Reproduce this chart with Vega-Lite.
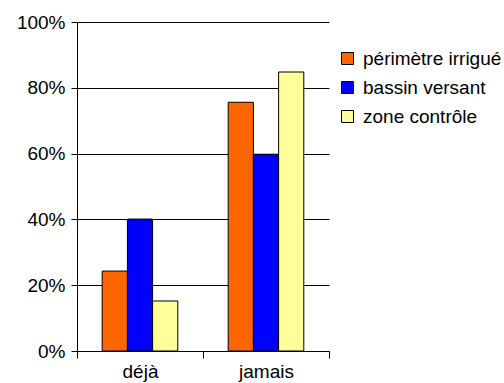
{
  "$schema": "https://vega.github.io/schema/vega-lite/v6.json",
  "autosize": "none",
  "padding": {"left": 77, "top": 22, "right": 175, "bottom": 32},
  "width": 252,
  "height": 329,
  "background": "white",
  "config": {
    "font": "Liberation Sans",
    "view": {"stroke": null},
    "axis": {"labelFont": "Liberation Sans", "labelFontSize": 19, "labelColor": "black", "domainColor": "black", "tickColor": "black", "gridColor": "black", "gridOpacity": 1}
  },
  "data": {
    "values": [
      {"categorie": "déjà", "zone": "périmètre irrigué", "valeur": 0.243},
      {"categorie": "déjà", "zone": "bassin versant", "valeur": 0.401},
      {"categorie": "déjà", "zone": "zone contrôle", "valeur": 0.152},
      {"categorie": "jamais", "zone": "périmètre irrigué", "valeur": 0.756},
      {"categorie": "jamais", "zone": "bassin versant", "valeur": 0.598},
      {"categorie": "jamais", "zone": "zone contrôle", "valeur": 0.848}
    ]
  },
  "mark": {"type": "bar", "stroke": "black", "strokeWidth": 1},
  "encoding": {
    "x": {
      "field": "categorie", "type": "nominal", "sort": ["déjà", "jamais"],
      "scale": {"paddingInner": 0, "paddingOuter": 0},
      "axis": {"title": null, "labelAngle": 0, "tickBand": "extent", "tickSize": 7, "labelPadding": 4, "grid": false}
    },
    "xOffset": {
      "field": "zone", "type": "nominal", "sort": ["périmètre irrigué", "bassin versant", "zone contrôle"],
      "scale": {"paddingInner": 0, "paddingOuter": 1}
    },
    "y": {
      "field": "valeur", "type": "quantitative",
      "scale": {"domain": [0, 1], "nice": false},
      "axis": {"title": null, "format": ".0%", "values": [0, 0.2, 0.4, 0.6, 0.8, 1], "tickSize": 6, "labelPadding": 6, "grid": true}
    },
    "color": {
      "field": "zone", "type": "nominal", "sort": ["périmètre irrigué", "bassin versant", "zone contrôle"],
      "scale": {"domain": ["périmètre irrigué", "bassin versant", "zone contrôle"], "range": ["#FF6600", "#0000FF", "#FFFF99"]},
      "legend": {
        "title": null, "orient": "none", "legendX": 261, "legendY": 27,
        "symbolType": "square", "symbolSize": 144, "symbolStrokeColor": "black", "symbolStrokeWidth": 1,
        "labelFontSize": 19, "labelColor": "black", "labelFont": "Liberation Sans", "labelOffset": 6, "rowPadding": 9
      }
    }
  }
}
